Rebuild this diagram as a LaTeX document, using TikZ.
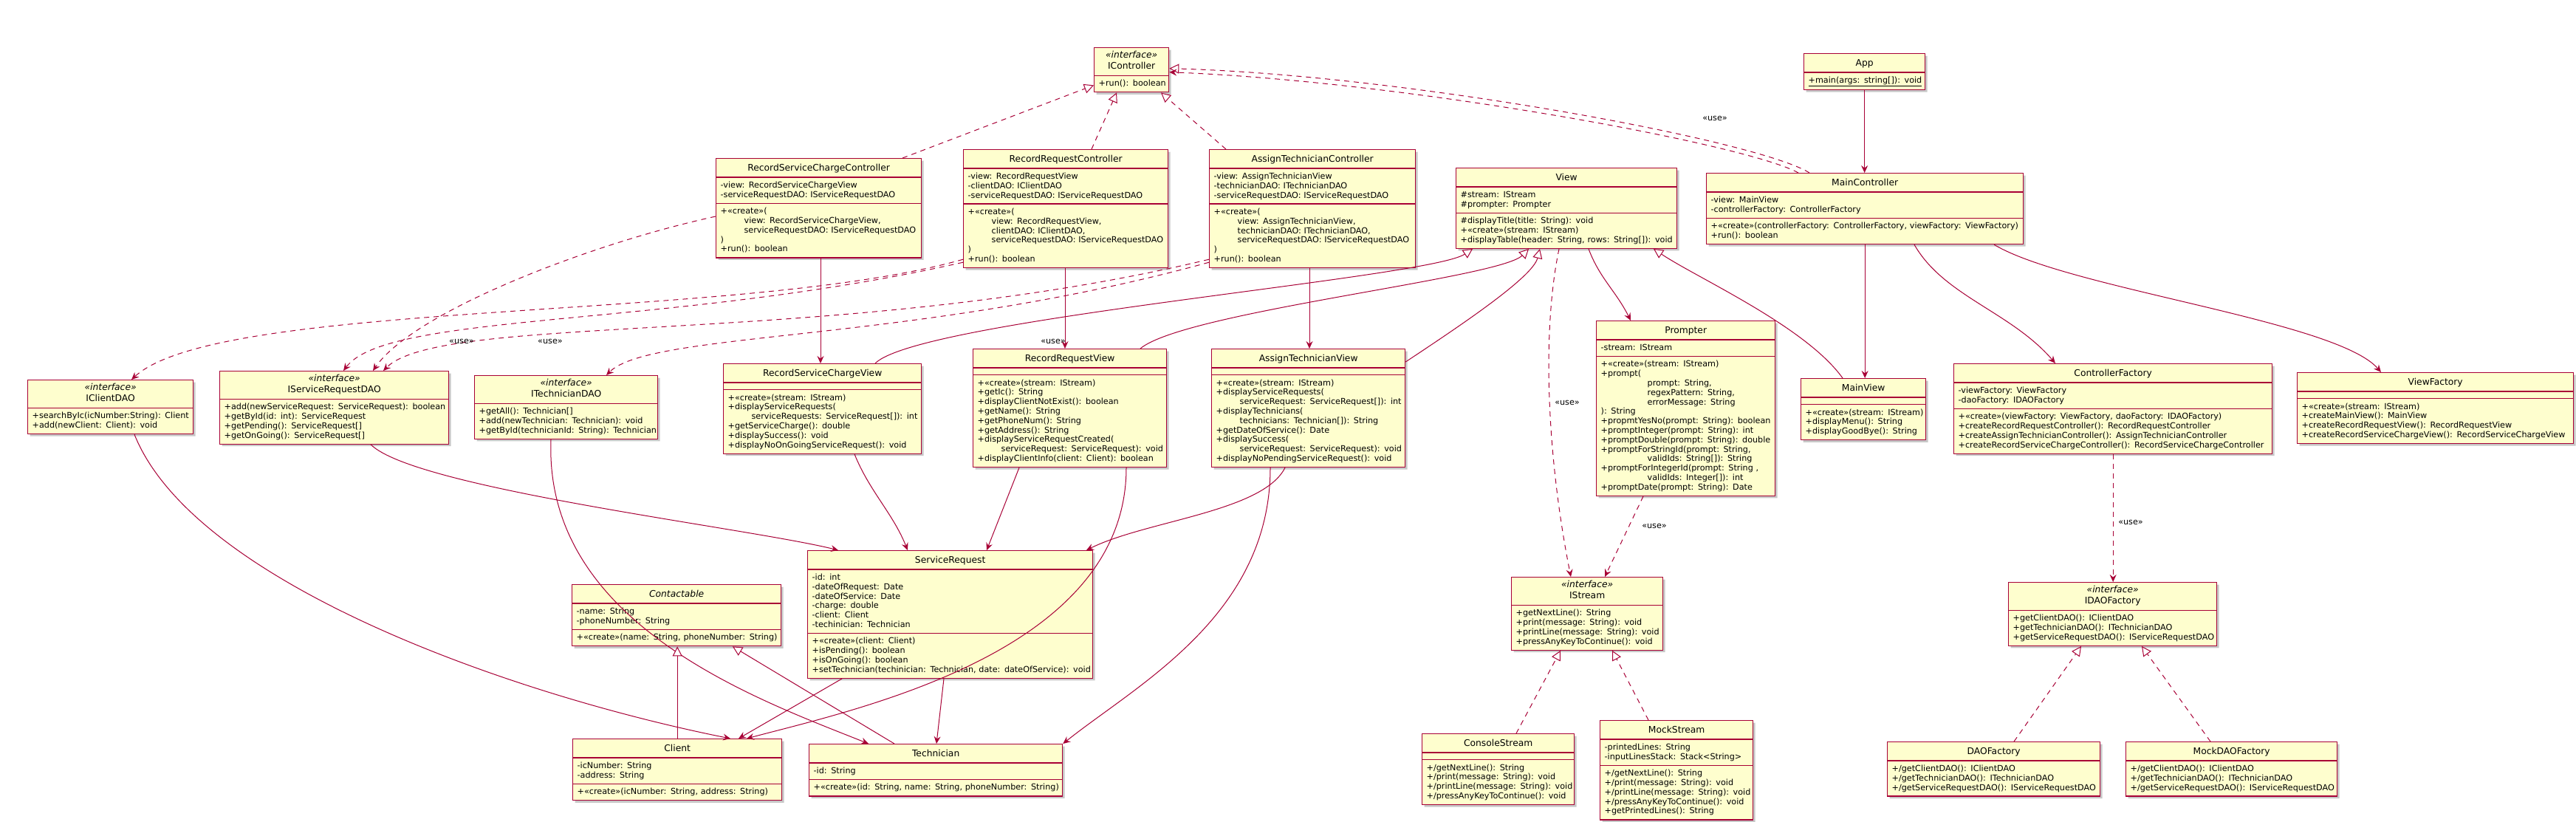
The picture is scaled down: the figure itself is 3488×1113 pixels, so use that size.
\documentclass[tikz,border=0pt]{standalone}
\usepackage{fontspec}
\setmainfont{DejaVu Sans}
\usetikzlibrary{shapes.multipart,arrows.meta,shadows}
\definecolor{umlfill}{HTML}{FEFECE}
\definecolor{umlline}{HTML}{A80036}
\newcommand\bodysz{\fontsize{11.2}{12.8}\selectfont}
\newcommand\ttlsz{\fontsize{12.3}{14}\selectfont}
\newcommand\cpart[1]{\noindent\vbox{\lineskip=0pt\lineskiplimit=0pt #1}}
\newcommand\mline[1]{\hbox{\rule[-3.2pt]{0pt}{12.8pt}#1}}
\newcommand\iline[1]{\hbox{\rule[-3.2pt]{0pt}{12.8pt}\hspace*{32pt}#1}}
\newcommand\pline[1]{\hbox{\rule[-3.2pt]{0pt}{12.8pt}\hspace*{63pt}#1}}
\newcommand\ctitle[1]{\hbox to\hsize{\hss\ttlsz\rule[-4pt]{0pt}{15.6pt}#1\hss}}
\newcommand\cster[1]{\hbox to\hsize{\hss\ttlsz\itshape\rule[-3pt]{0pt}{10.5pt}«#1»\hss}}
\tikzset{
 cls/.style={draw=umlline, fill=umlfill, line width=1.3pt, anchor=north west,
   rectangle split, inner xsep=6pt, inner ysep=4.2pt, font=\bodysz,
   drop shadow={shadow xshift=3pt, shadow yshift=-3pt, fill=black, opacity=0.22}},
 cls3/.style={cls, rectangle split parts=3},
 cls2/.style={cls, rectangle split parts=2},
 conn/.style={draw=umlline, line width=1pt},
 assoc/.style={conn, -{Stealth[length=10pt,width=9pt,inset=3.5pt]}},
 dep/.style={assoc, dash pattern=on 7pt off 6pt},
 real/.style={conn, dash pattern=on 7pt off 6pt, -{Triangle[open,length=13pt,width=13pt,fill=white]}},
 gen/.style={conn, -{Triangle[open,length=13pt,width=13pt,fill=white]}},
 lbl/.style={font=\bodysz, inner sep=1pt}
}
\begin{document}
\begin{tikzpicture}[x=1pt,y=-1pt]
\fill[white] (0,0) rectangle (3488,1113);
\useasboundingbox (0,0) rectangle (3488,1113);

% ---------- classes ----------
\node[cls2, text width=89pt] (ictl) at (1481,64) {\cpart{\cster{interface}\ctitle{IController}}\nodepart{two}\cpart{\mline{+run(): boolean}}};

\node[cls2, text width=152pt] (app) at (2442,72) {\cpart{\ctitle{App}}\nodepart{two}\cpart{\mline{\underline{+main(args: string[]): void}}}};

\node[cls3, text width=417pt] (mc) at (2310,234) {\cpart{\ctitle{MainController}}
\nodepart{two}\cpart{\mline{-view: MainView}\mline{-controllerFactory: ControllerFactory}}
\nodepart{three}\cpart{\mline{+«create»(controllerFactory: ControllerFactory, viewFactory: ViewFactory)}\mline{+run(): boolean}}};

\node[cls3, text width=266pt] (rscc) at (969,214) {\cpart{\ctitle{RecordServiceChargeController}}
\nodepart{two}\cpart{\mline{-view: RecordServiceChargeView}\mline{-serviceRequestDAO: IServiceRequestDAO}}
\nodepart{three}\cpart{\mline{+«create»(}\iline{view: RecordServiceChargeView,}\iline{serviceRequestDAO: IServiceRequestDAO}\mline{)}\mline{+run(): boolean}}};

\node[cls3, text width=265pt] (rrc) at (1304,202) {\cpart{\ctitle{RecordRequestController}}
\nodepart{two}\cpart{\mline{-view: RecordRequestView}\mline{-clientDAO: IClientDAO}\mline{-serviceRequestDAO: IServiceRequestDAO}}
\nodepart{three}\cpart{\mline{+«create»(}\iline{view: RecordRequestView,}\iline{clientDAO: IClientDAO,}\iline{serviceRequestDAO: IServiceRequestDAO}\mline{)}\mline{+run(): boolean}}};

\node[cls3, text width=267pt] (atc) at (1637,202) {\cpart{\ctitle{AssignTechnicianController}}
\nodepart{two}\cpart{\mline{-view: AssignTechnicianView}\mline{-technicianDAO: ITechnicianDAO}\mline{-serviceRequestDAO: IServiceRequestDAO}}
\nodepart{three}\cpart{\mline{+«create»(}\iline{view: AssignTechnicianView,}\iline{technicianDAO: ITechnicianDAO,}\iline{serviceRequestDAO: IServiceRequestDAO}\mline{)}\mline{+run(): boolean}}};

\node[cls3, text width=287pt] (view) at (1971,227) {\cpart{\ctitle{View}}
\nodepart{two}\cpart{\mline{\#stream: IStream}\mline{\#prompter: Prompter}}
\nodepart{three}\cpart{\mline{\#displayTitle(title: String): void}\mline{+«create»(stream: IStream)}\mline{+displayTable(header: String, rows: String[]): void}}};

\node[cls3, text width=230pt] (prm) at (2161,434) {\cpart{\ctitle{Prompter}}
\nodepart{two}\cpart{\mline{-stream: IStream}}
\nodepart{three}\cpart{\mline{+«create»(stream: IStream)}\mline{+prompt(}\pline{prompt: String,}\pline{regexPattern: String,}\pline{errorMessage: String}\mline{): String}\mline{+propmtYesNo(prompt: String): boolean}\mline{+promptInteger(prompt: String): int}\mline{+promptDouble(prompt: String): double}\mline{+promptForStringId(prompt: String,}\pline{validIds: String[]): String}\mline{+promptForIntegerId(prompt: String ,}\pline{validIds: Integer[]): int}\mline{+promptDate(prompt: String): Date}}};

\node[cls3, text width=157pt] (mv) at (2438,512) {\cpart{\ctitle{MainView}}
\nodepart{two}
\nodepart{three}\cpart{\mline{+«create»(stream: IStream)}\mline{+displayMenu(): String}\mline{+displayGoodBye(): String}}};

\node[cls3, text width=419pt] (cf) at (2645,492) {\cpart{\ctitle{ControllerFactory}}
\nodepart{two}\cpart{\mline{-viewFactory: ViewFactory}\mline{-daoFactory: IDAOFactory}}
\nodepart{three}\cpart{\mline{+«create»(viewFactory: ViewFactory, daoFactory: IDAOFactory)}\mline{+createRecordRequestController(): RecordRequestController}\mline{+createAssignTechnicianController(): AssignTechnicianController}\mline{+createRecordServiceChargeController(): RecordServiceChargeController}}};

\node[cls3, text width=362pt] (vf) at (3110,504) {\cpart{\ctitle{ViewFactory}}
\nodepart{two}
\nodepart{three}\cpart{\mline{+«create»(stream: IStream)}\mline{+createMainView(): MainView}\mline{+createRecordRequestView(): RecordRequestView}\mline{+createRecordServiceChargeView(): RecordServiceChargeView}}};

\node[cls2, text width=212pt] (icd) at (37,514) {\cpart{\cster{interface}\ctitle{IClientDAO}}
\nodepart{two}\cpart{\mline{+searchByIc(icNumber:String): Client}\mline{+add(newClient: Client): void}}};

\node[cls2, text width=298pt] (isrd) at (297,502) {\cpart{\cster{interface}\ctitle{IServiceRequestDAO}}
\nodepart{two}\cpart{\mline{+add(newServiceRequest: ServiceRequest): boolean}\mline{+getById(id: int): ServiceRequest}\mline{+getPending(): ServiceRequest[]}\mline{+getOnGoing(): ServiceRequest[]}}};

\node[cls2, text width=236pt] (itd) at (642,508) {\cpart{\cster{interface}\ctitle{ITechnicianDAO}}
\nodepart{two}\cpart{\mline{+getAll(): Technician[]}\mline{+add(newTechnician: Technician): void}\mline{+getById(technicianId: String): Technician}}};

\node[cls3, text width=256pt] (rscv) at (979,492) {\cpart{\ctitle{RecordServiceChargeView}}
\nodepart{two}
\nodepart{three}\cpart{\mline{+«create»(stream: IStream)}\mline{+displayServiceRequests(}\iline{serviceRequests: ServiceRequest[]): int}\mline{+getServiceCharge(): double}\mline{+displaySuccess(): void}\mline{+displayNoOnGoingServiceRequest(): void}}};

\node[cls3, text width=250pt] (rrv) at (1317,472) {\cpart{\ctitle{RecordRequestView}}
\nodepart{two}
\nodepart{three}\cpart{\mline{+«create»(stream: IStream)}\mline{+getIc(): String}\mline{+displayClientNotExist(): boolean}\mline{+getName(): String}\mline{+getPhoneNum(): String}\mline{+getAddress(): String}\mline{+displayServiceRequestCreated(}\iline{serviceRequest: ServiceRequest): void}\mline{+displayClientInfo(client: Client): boolean}}};

\node[cls3, text width=250pt] (atv) at (1640,472) {\cpart{\ctitle{AssignTechnicianView}}
\nodepart{two}
\nodepart{three}\cpart{\mline{+«create»(stream: IStream)}\mline{+displayServiceRequests(}\iline{serviceRequest: ServiceRequest[]): int}\mline{+displayTechnicians(}\iline{technicians: Technician[]): String}\mline{+getDateOfService(): Date}\mline{+displaySuccess(}\iline{serviceRequest: ServiceRequest): void}\mline{+displayNoPendingServiceRequest(): void}}};

\node[cls3, text width=374pt] (sr) at (1093,745) {\cpart{\ctitle{ServiceRequest}}
\nodepart{two}\cpart{\mline{-id: int}\mline{-dateOfRequest: Date}\mline{-dateOfService: Date}\mline{-charge: double}\mline{-client: Client}\mline{-techinician: Technician}}
\nodepart{three}\cpart{\mline{+«create»(client: Client)}\mline{+isPending(): boolean}\mline{+isOnGoing(): boolean}\mline{+setTechnician(techinician: Technician, date: dateOfService): void}}};

\node[cls3, text width=271pt] (con) at (774,791) {\cpart{\ctitle{\itshape Contactable}}
\nodepart{two}\cpart{\mline{-name: String}\mline{-phoneNumber: String}}
\nodepart{three}\cpart{\mline{+«create»(name: String, phoneNumber: String)}}};

\node[cls3, text width=271pt] (cl) at (775,1000) {\cpart{\ctitle{Client}}
\nodepart{two}\cpart{\mline{-icNumber: String}\mline{-address: String}}
\nodepart{three}\cpart{\mline{+«create»(icNumber: String, address: String)}}};

\node[cls3, text width=331pt] (tech) at (1095,1007) {\cpart{\ctitle{Technician}}
\nodepart{two}\cpart{\mline{-id: String}}
\nodepart{three}\cpart{\mline{+«create»(id: String, name: String, phoneNumber: String)}}};

\node[cls2, text width=193pt] (is) at (2046,781) {\cpart{\cster{interface}\ctitle{IStream}}
\nodepart{two}\cpart{\mline{+getNextLine(): String}\mline{+print(message: String): void}\mline{+printLine(message: String): void}\mline{+pressAnyKeyToContinue(): void}}};

\node[cls3, text width=194pt] (cs) at (1925,993) {\cpart{\ctitle{ConsoleStream}}
\nodepart{two}
\nodepart{three}\cpart{\mline{+/getNextLine(): String}\mline{+/print(message: String): void}\mline{+/printLine(message: String): void}\mline{+/pressAnyKeyToContinue(): void}}};

\node[cls3, text width=195pt] (ms) at (2166,975) {\cpart{\ctitle{MockStream}}
\nodepart{two}\cpart{\mline{-printedLines: String}\mline{-inputLinesStack: Stack<String>}}
\nodepart{three}\cpart{\mline{+/getNextLine(): String}\mline{+/print(message: String): void}\mline{+/printLine(message: String): void}\mline{+/pressAnyKeyToContinue(): void}\mline{+getPrintedLines(): String}}};

\node[cls2, text width=270pt] (idf) at (2719,788) {\cpart{\cster{interface}\ctitle{IDAOFactory}}
\nodepart{two}\cpart{\mline{+getClientDAO(): IClientDAO}\mline{+getTechnicianDAO(): ITechnicianDAO}\mline{+getServiceRequestDAO(): IServiceRequestDAO}}};

\node[cls2, text width=276pt] (df) at (2555,1004) {\cpart{\ctitle{DAOFactory}}
\nodepart{two}\cpart{\mline{+/getClientDAO(): IClientDAO}\mline{+/getTechnicianDAO(): ITechnicianDAO}\mline{+/getServiceRequestDAO(): IServiceRequestDAO}}};

\node[cls2, text width=274pt] (mdf) at (2878,1004) {\cpart{\ctitle{MockDAOFactory}}
\nodepart{two}\cpart{\mline{+/getClientDAO(): IClientDAO}\mline{+/getTechnicianDAO(): ITechnicianDAO}\mline{+/getServiceRequestDAO(): IServiceRequestDAO}}};

% ---------- connectors ----------
% realizations of IController
\draw[real] ([xshift=253pt]rscc.north west) -- ([yshift=10pt]ictl.south west);
\draw[real] ([xshift=174pt]rrc.north west) -- ([xshift=31pt]ictl.south west);
\draw[real] ([xshift=23pt]atc.north west) -- ([xshift=91pt]ictl.south west);
\draw[real] ([xshift=140pt]mc.north west) .. controls +(-70,-44) and +(318,9) .. ([yshift=2pt]ictl.east);
\draw[dep] ([xshift=125pt]mc.north west) .. controls +(-70,-39) and +(318,12) .. ([yshift=-3pt]ictl.east);
\node[lbl] (u0) at (2322,160) {«use»};

% App / MainController
\draw[assoc] (app.south) -- (app.south |- mc.north);
\draw[assoc] (mc.south) -- (mc.south |- mv.north);
\draw[assoc] ([xshift=282pt]mc.south west) .. controls +(40,70) and +(-60,-70) .. ([xshift=138pt]cf.north west);
\draw[assoc] ([xshift=390pt]mc.south west) .. controls +(100,60) and +(-60,-70) .. ([xshift=114pt]vf.north west);

% controllers -> views
\coordinate (k1) at ([xshift=142pt]rscc.south west);
\coordinate (k2) at ([xshift=138pt]rrc.south west);
\coordinate (k3) at ([xshift=136pt]atc.south west);
\draw[assoc] (k1) -- (k1 |- rscv.north);
\draw[assoc] (k2) -- (k2 |- rrv.north);
\draw[assoc] (k3) -- (k3 |- atv.north);

% controllers -> DAOs (use)
\draw[dep] ([yshift=-79pt]rscc.north west) .. controls +(-170,37) and +(55,-80) .. ([xshift=208pt]isrd.north west);
\draw[dep] ([yshift=12pt]rrc.south west) .. controls +(-300,85) and +(120,-110) .. ([xshift=141pt]icd.north west);
\draw[dep] ([yshift=8pt]rrc.south west) .. controls +(-400,90) and +(60,-80) .. ([xshift=168pt]isrd.north west);
\draw[dep] ([yshift=12pt]atc.south west) .. controls +(-500,120) and +(80,-80) .. ([xshift=222pt]isrd.north west);
\draw[dep] ([yshift=8pt]atc.south west) .. controls +(-400,110) and +(60,-60) .. ([xshift=179pt]itd.north west);
\node[lbl] (u1) at (625,462) {«use»};
\node[lbl] (u2) at (745,462) {«use»};
\node[lbl] (u3) at (1426,462) {«use»};

% View relations
\draw[assoc] ([xshift=180pt]view.south west) .. controls +(15,40) and +(-20,-40) .. ([xshift=47pt]prm.north west);
\draw[gen] ([xshift=57pt]mv.north west) .. controls +(-50,-70) and +(60,40) .. ([xshift=268pt]view.south west);
\draw[gen] ([xshift=206pt]rscv.north west) .. controls +(60,-60) and +(-60,40) .. ([xshift=23pt]view.south west);
\draw[gen] ([xshift=227pt]rrv.north west) .. controls +(60,-50) and +(-40,40) .. ([xshift=99pt]view.south west);
\draw[gen] ([yshift=-18pt]atv.north east) .. controls +(60,-40) and +(-10,40) .. ([xshift=114pt]view.south west);
\draw[dep] ([xshift=140pt]view.south west) .. controls +(-25,120) and +(-30,-150) .. ([xshift=81pt]is.north west);
\node[lbl] (u4) at (2122,545) {«use»};
\draw[dep] ([xshift=64pt]prm.south west) -- ([xshift=127pt]is.north west);
\node[lbl] (u5) at (2240,712) {«use»};

% factories
\draw[dep] (cf.south) -- (cf.south |- idf.north);
\node[lbl] (u6) at (2885,707) {«use»};
\draw[real] ([xshift=172pt]df.north west) -- ([xshift=99pt]idf.south west);
\draw[real] ([xshift=115pt]mdf.north west) -- ([xshift=181pt]idf.south west);

% streams
\draw[real] ([xshift=128pt]cs.north west) -- ([xshift=67pt]is.south west);
\draw[real] ([xshift=66pt]ms.north west) -- ([xshift=137pt]is.south west);

% ServiceRequest and entities
\draw[assoc] ([xshift=205pt]isrd.south west) .. controls +(60,60) and +(-120,-30) .. ([xshift=42pt]sr.north west);
\draw[assoc] ([xshift=178pt]rscv.south west) .. controls +(20,50) and +(-20,-50) .. ([xshift=136pt]sr.north west);
\draw[assoc] ([xshift=63pt]rrv.south west) -- ([xshift=243pt]sr.north west);
\draw[assoc] ([xshift=100pt]atv.south west) .. controls +(-30,60) and +(80,-40) .. ([xshift=378pt]sr.north west);
\draw[assoc] ([xshift=47pt]sr.south west) -- ([xshift=225pt]cl.north west);
\draw[assoc] ([xshift=185pt]sr.south west) -- ([xshift=173pt]tech.north west);
\draw[assoc] ([xshift=145pt]icd.south west) .. controls +(80,200) and +(-300,-60) .. ([xshift=214pt]cl.north west);
\draw[assoc] ([xshift=208pt]rrv.south west) .. controls +(0,250) and +(150,-40) .. ([xshift=236pt]cl.north west);
\draw[assoc] ([xshift=104pt]itd.south west) .. controls +(-10,250) and +(-150,-60) .. ([xshift=81pt]tech.north west);
\draw[assoc] ([xshift=80pt]atv.south west) .. controls +(0,200) and +(100,-80) .. (tech.north east);
\draw[gen] (cl.north) -- (cl.north |- con.south);
\draw[gen] ([xshift=116pt]tech.north west) -- ([xshift=218pt]con.south west);
\end{tikzpicture}
\end{document}
